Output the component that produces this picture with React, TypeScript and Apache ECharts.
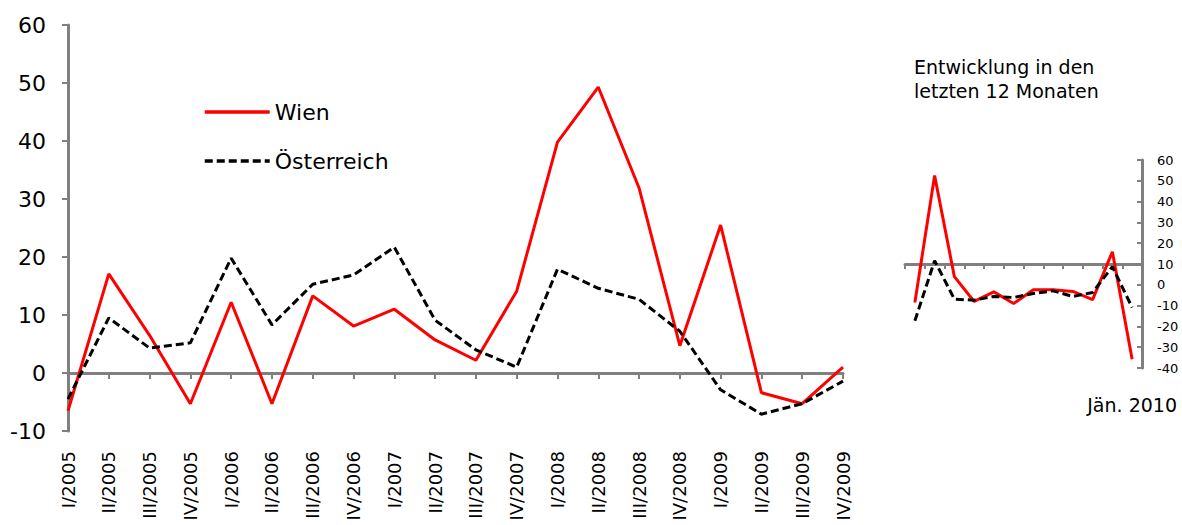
import React, { useEffect, useRef } from "react";
import * as echarts from "echarts";

const quarters = [
  "I/2005", "II/2005", "III/2005", "IV/2005",
  "I/2006", "II/2006", "III/2006", "IV/2006",
  "I/2007", "II/2007", "III/2007", "IV/2007",
  "I/2008", "II/2008", "III/2008", "IV/2008",
  "I/2009", "II/2009", "III/2009", "IV/2009",
];
const wienQ = [-6.5, 17.1, 6.5, -5.3, 12.2, -5.3, 13.3, 8.1, 11.0, 5.7, 2.2, 14.1, 39.8, 49.3, 31.9, 4.7, 25.5, -3.4, -5.3, 1.0];
const oesterreichQ = [-4.5, 9.5, 4.3, 5.2, 19.8, 8.3, 15.3, 16.9, 21.7, 9.1, 4.0, 1.0, 17.9, 14.6, 12.7, 7.2, -2.9, -7.1, -5.3, -1.4];

const months = [
  "Feb. 2009", "Mär. 2009", "Apr. 2009", "Mai 2009", "Jun. 2009", "Jul. 2009",
  "Aug. 2009", "Sep. 2009", "Okt. 2009", "Nov. 2009", "Dez. 2009", "Jän. 2010",
];
const wienM = [-8.5, 52.5, 3.9, -8.0, -3.4, -9.0, -2.4, -2.4, -3.2, -7.1, 15.9, -35.8];
const oesterreichM = [-17.3, 11.6, -6.9, -7.4, -5.6, -6.1, -4.2, -2.9, -5.6, -3.7, 8.7, -10.9];

const mainTicks = { min: -10, max: 60, interval: 10 };
const smallTicks = { min: -40, max: 60, interval: 10 };

const FONT = "DejaVu Sans";
const GRAY = "#808080";

export default function App() {
  const ref = useRef<HTMLDivElement>(null);
  useEffect(() => {
    if (!ref.current) return;
    const chart = echarts.init(ref.current, null, { renderer: "svg" });
    chart.setOption({
      animation: false,
      textStyle: { fontFamily: FONT, color: "#000" },
      title: {
        text: "Entwicklung in den\nletzten 12 Monaten",
        left: 909,
        top: 50,
        textStyle: { fontFamily: FONT, fontSize: 19, fontWeight: "normal", color: "#000", lineHeight: 24 },
      },
      legend: {
        data: ["Wien", "Österreich"],
        orient: "vertical",
        left: 203,
        top: 101,
        padding: 0,
        itemWidth: 65,
        itemHeight: 22,
        itemGap: 27,
        itemStyle: { opacity: 0 },
        lineStyle: { width: 3.5 },
        textStyle: { fontFamily: FONT, fontSize: 22, color: "#000", lineHeight: 22 },
      },
      grid: [
        { left: 68, right: 339, top: 25, bottom: 94, outerBoundsMode: "none", containLabel: false },
        { left: 905, right: 40, top: 160, bottom: 157, outerBoundsMode: "none", containLabel: false },
      ],
      xAxis: [
        {
          gridIndex: 0, type: "category", data: quarters, boundaryGap: false, position: "bottom",
          axisLine: { show: false, onZero: false }, axisTick: { show: false },
          axisLabel: { rotate: 90, fontSize: 18, margin: 20, color: "#000", fontFamily: FONT, interval: 0 },
        },
        {
          gridIndex: 0, type: "category", data: quarters, boundaryGap: false, position: "top",
          axisLine: { show: true, onZero: true, lineStyle: { color: GRAY, width: 3 } },
          axisTick: { show: true, inside: true, length: 6, interval: 0, lineStyle: { color: GRAY, width: 2 } },
          axisLabel: { show: false },
        },
        {
          gridIndex: 1, type: "category", data: months, boundaryGap: true, position: "bottom",
          axisLine: { show: false, onZero: false }, axisTick: { show: false },
          axisLabel: {
            fontSize: 19, margin: 27, color: "#000", fontFamily: FONT,
            interval: (i: number) => i === months.length - 1,
          },
        },
        {
          gridIndex: 1, type: "category", data: months, boundaryGap: true, position: "top",
          axisLine: { show: true, onZero: true, onZeroAxisIndex: 2, lineStyle: { color: GRAY, width: 3 } },
          axisTick: { show: true, inside: true, length: 5, interval: 0, lineStyle: { color: GRAY, width: 2 } },
          axisLabel: { show: false },
        },
      ],
      yAxis: [
        {
          gridIndex: 0, type: "value", ...mainTicks,
          axisLine: { show: true, lineStyle: { color: GRAY, width: 3 } },
          axisTick: { show: true, length: 6, lineStyle: { color: GRAY, width: 2 } },
          axisLabel: { fontSize: 22, margin: 22, color: "#000", fontFamily: FONT },
          splitLine: { show: false },
        },
        {
          gridIndex: 1, type: "value", position: "right", ...smallTicks,
          axisLine: { show: true, lineStyle: { color: GRAY, width: 3 } },
          axisTick: { show: true, inside: true, length: 5, lineStyle: { color: GRAY, width: 2 } },
          axisLabel: { fontSize: 13, margin: 15, color: "#000", fontFamily: FONT },
          splitLine: { show: false },
        },
        {
          gridIndex: 1, type: "value", min: -50, max: 50, show: false,
          axisLine: { show: false }, splitLine: { show: false },
        },
      ],
      series: [
        {
          name: "Wien", type: "line", xAxisIndex: 0, yAxisIndex: 0, data: wienQ,
          symbol: "none", lineStyle: { color: "#ff0000", width: 3 }, itemStyle: { color: "#ff0000" }, z: 3,
        },
        {
          name: "Österreich", type: "line", xAxisIndex: 0, yAxisIndex: 0, data: oesterreichQ,
          symbol: "none", lineStyle: { color: "#000", width: 3, type: [8, 4] }, itemStyle: { color: "#000" }, z: 4,
        },
        {
          name: "Wien", type: "line", xAxisIndex: 2, yAxisIndex: 1, data: wienM,
          symbol: "none", lineStyle: { color: "#ff0000", width: 3 }, itemStyle: { color: "#ff0000" }, z: 3,
        },
        {
          name: "Österreich", type: "line", xAxisIndex: 2, yAxisIndex: 1, data: oesterreichM,
          symbol: "none", lineStyle: { color: "#000", width: 3, type: [8, 4] }, itemStyle: { color: "#000" }, z: 4,
        },
      ],
    });
    return () => chart.dispose();
  }, []);
  return (
    <div
      ref={ref}
      style={{ position: "fixed", left: 0, top: 0, width: 1182, height: 525, background: "#fff" }}
    />
  );
}
